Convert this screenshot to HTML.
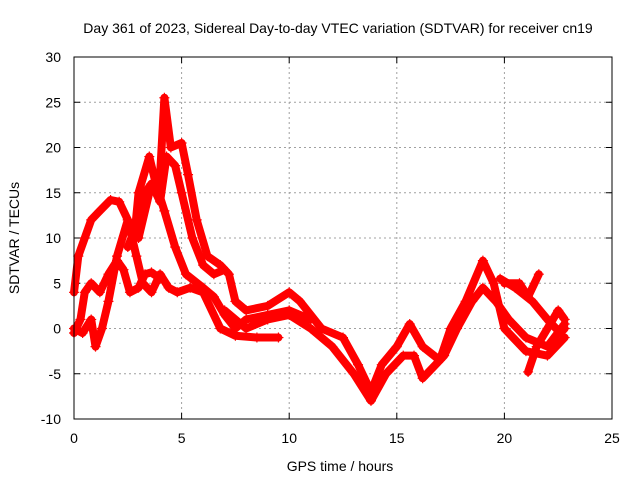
<!DOCTYPE html>
<html><head><meta charset="utf-8"><style>
body{margin:0;background:#fff}
svg{display:block;font-family:"Liberation Sans",sans-serif}
</style></head><body>
<svg id="c" width="640" height="480"></svg>
<script>
const xTicks=[0,5,10,15,20,25];
const yTicks=[-10,-5,0,5,10,15,20,25,30];
const track1=[[0,-0.5],[0.3,1],[0.5,4],[0.8,5],[1.2,4],[1.6,6],[2,7.5],[2.3,6.5],[2.6,4],[3,4.5],[3.3,6],[3.6,6.2],[4,5.5]];
const track2=[[0,4],[0.2,8],[0.5,10],[0.8,12],[1.2,13],[1.7,14.2],[2.1,14],[2.5,12],[2.9,8],[3.2,5],[3.6,4],[4,6],[4.4,4.5],[4.8,4],[5.4,4.5],[6,4],[6.8,0],[7.5,-0.8],[8.5,-1],[9.5,-1]];
const track3=[[0,0],[0.4,-0.5],[0.8,1],[1,-2],[1.3,0],[1.6,3],[2,8],[2.5,12],[2.8,10],[3,15],[3.5,19],[3.8,16],[4.2,13],[4.7,9],[5.2,6],[6,4.5],[6.5,3.5],[7,1.5],[7.5,0],[8,1],[9,1.5],[10,2],[11,1]];
const track4=[[3,10],[3.5,15],[4,17],[4.2,25.5],[4.5,20],[5,20.5],[5.3,17],[5.7,12],[6.2,8],[6.8,7],[7.2,6],[7.5,3],[8,2],[9,2.5],[10,4],[10.5,3],[11.5,0],[12.5,-1],[13.2,-4],[13.8,-7],[14.3,-4],[15,-2],[15.6,0.5],[16.2,-2],[17,-3.5],[17.5,0],[18.2,3],[19,7.5],[19.5,5],[20,0],[21,-2.5],[22,-3],[22.8,-1]];
const track5=[[7,2],[8,0],[9,1],[10,1.5],[11,0],[12,-2],[13,-5],[13.8,-8],[14.5,-5],[15.3,-3],[15.8,-3],[16.2,-5.5],[16.8,-4],[17.2,-3],[17.8,0],[18.5,3],[19,4.5],[19.6,3],[20.2,1],[21,-1],[22,-2],[22.8,0.5]];
const track6=[[19.8,5.5],[20.5,4.5],[21.3,3],[22,1],[22.6,-0.5],[22.8,0]];
const track7=[[21.1,-4.8],[21.5,-2],[22,0],[22.5,2],[22.8,1]];
const track8=[[20,5],[20.7,5],[21.1,3.5],[21.6,6]];
const track9=[[2.5,9],[3,12],[3.3,15],[3.6,16],[4,14],[4.3,19],[4.7,18],[5,15],[5.5,10],[6,7],[6.5,6],[7,6.5]];
const tracks=[track1,track2,track3,track4,track5,track6,track7,track8,track9];
const X0=74,X1=612,Y0=419,Y1=57,XMIN=0,XMAX=25,YMIN=-10,YMAX=30;
const sx=v=>X0+(v-XMIN)/(XMAX-XMIN)*(X1-X0);
const sy=v=>Y0-(v-YMIN)/(YMAX-YMIN)*(Y0-Y1);
const NS="http://www.w3.org/2000/svg",svg=document.getElementById('c');
function mk(t,a,txt){const e=document.createElementNS(NS,t);for(const k in a)e.setAttribute(k,a[k]);if(txt!=null)e.textContent=txt;svg.appendChild(e);return e;}
xTicks.forEach(t=>{
 if(t>0&&t<25){const g=mk('line',{x1:sx(t),x2:sx(t),y1:Y1,y2:Y0,stroke:'#a0a0a0','stroke-dasharray':'2,3'});
 
 }
 const l=mk('text',{x:sx(t),y:443,'font-size':14,'text-anchor':'middle',fill:'#000'},t);
 
 
 mk('line',{x1:sx(t),x2:sx(t),y1:Y0,y2:Y0-6,stroke:'#000'});
 mk('line',{x1:sx(t),x2:sx(t),y1:Y1,y2:Y1+6,stroke:'#000'});
});
yTicks.forEach(t=>{
 if(t>-10&&t<30){const g=mk('line',{x1:X0,x2:X1,y1:sy(t),y2:sy(t),stroke:'#a0a0a0','stroke-dasharray':'2,3'});
 
 }
 const l=mk('text',{x:61,y:sy(t)+5,'font-size':14,'text-anchor':'end',fill:'#000'},t);
 
 
 mk('line',{x1:X0,x2:X0+6,y1:sy(t),y2:sy(t),stroke:'#000'});
 mk('line',{x1:X1,x2:X1-6,y1:sy(t),y2:sy(t),stroke:'#000'});
});
tracks.forEach(tr=>{
 const p=mk('polyline',{points:tr.map(d=>sx(d[0])+','+sy(d[1])).join(' '),fill:'none',stroke:'#f00','stroke-width':8,'stroke-linejoin':'round','stroke-linecap':'round'});
 
 
 tr.forEach(d=>{
  const x=sx(d[0]),y=sy(d[1]);
  const m=mk('path',{d:`M${x-5},${y}H${x+5}M${x},${y-5}V${y+5}`,stroke:'#f00','stroke-width':1.2});
  
  
 });
});
const fr=mk('rect',{x:X0,y:Y1,width:X1-X0,height:Y0-Y1,fill:'none',stroke:'#000'});


const tt=mk('text',{x:338,y:33,'font-size':14,'text-anchor':'middle'},'Day 361 of 2023, Sidereal Day-to-day VTEC variation (SDTVAR) for receiver cn19');


const xt=mk('text',{x:340,y:471,'font-size':14,'text-anchor':'middle'},'GPS time / hours');


const yt=mk('text',{x:0,y:0,'font-size':14,'text-anchor':'middle',transform:'translate(19,238) rotate(-90)'},'SDTVAR / TECUs');


</script>
</body></html>
